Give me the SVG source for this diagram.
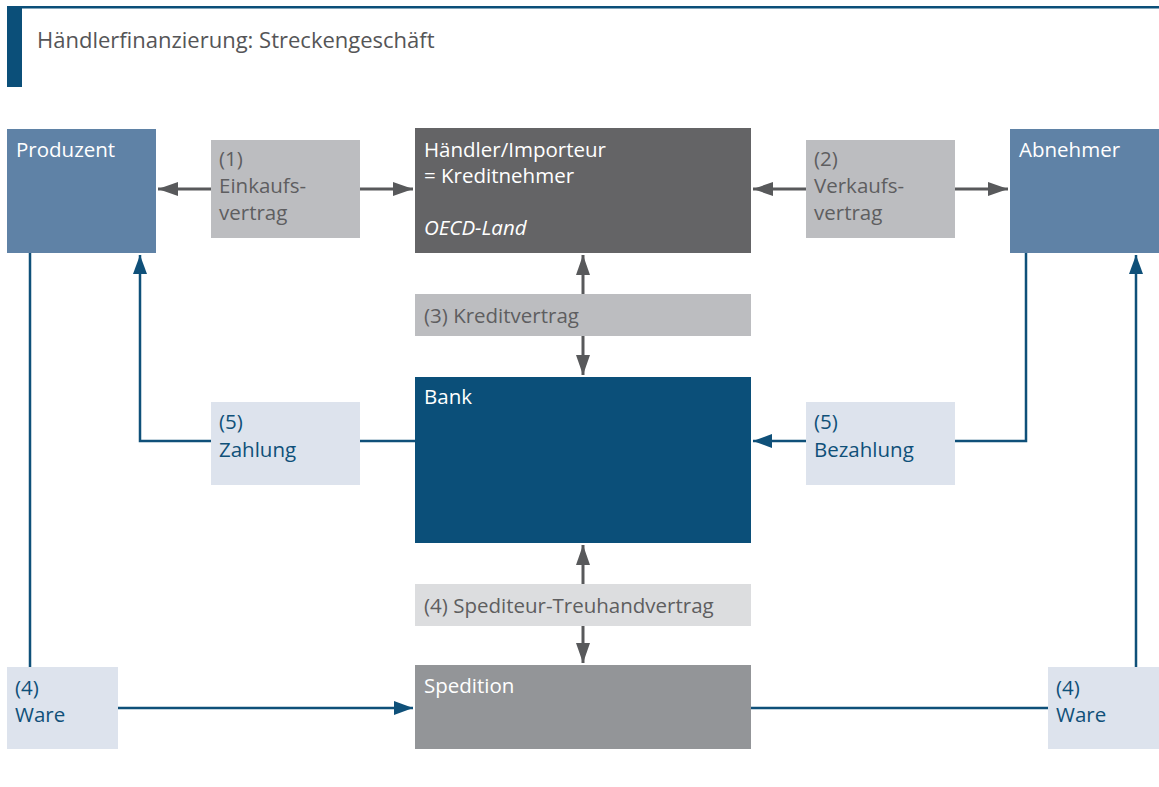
<svg xmlns="http://www.w3.org/2000/svg" width="1159" height="787" viewBox="0 0 1159 787">
<style>
text{font-family:"Open Sans","Noto Sans","Liberation Sans",sans-serif;font-size:20.5px}
.w{fill:#ffffff}
.g{fill:#5e5e60}
.b{fill:#0f5079}
.gl{stroke:#58595b;stroke-width:3;fill:none}
.bl{stroke:#0f5079;stroke-width:2.5;fill:none}
</style>
<defs>
<marker id="ag" markerUnits="userSpaceOnUse" markerWidth="20" markerHeight="14" refX="20" refY="7" orient="auto-start-reverse"><path d="M0,0 L20,7 L0,14 Z" fill="#58595b"/></marker>
<marker id="ab" markerUnits="userSpaceOnUse" markerWidth="19" markerHeight="14" refX="19" refY="7" orient="auto-start-reverse"><path d="M0,0 L19,7 L0,14 Z" fill="#0f5079"/></marker>
</defs>
<rect width="1159" height="787" fill="#ffffff"/>
<g id="header">
<rect x="7" y="6" width="1152" height="2.5" fill="#0b4f79"/>
<rect x="7" y="6" width="15" height="81" fill="#0b4f79"/>
<text x="37" y="48" style="fill:#555557;font-size:22px">Händlerfinanzierung: Streckengeschäft</text>
</g>
<g id="connectors">
<line x1="211" y1="189" x2="158" y2="189" class="gl" marker-end="url(#ag)"/>
<line x1="360" y1="189" x2="413" y2="189" class="gl" marker-end="url(#ag)"/>
<line x1="806" y1="189" x2="753" y2="189" class="gl" marker-end="url(#ag)"/>
<line x1="955" y1="189" x2="1008" y2="189" class="gl" marker-end="url(#ag)"/>
<line x1="583" y1="294" x2="583" y2="255" class="gl" marker-end="url(#ag)"/>
<line x1="583" y1="336" x2="583" y2="375" class="gl" marker-end="url(#ag)"/>
<line x1="583" y1="584" x2="583" y2="545" class="gl" marker-end="url(#ag)"/>
<line x1="583" y1="626" x2="583" y2="663" class="gl" marker-end="url(#ag)"/>
<polyline points="211,441 140,441 140,255" class="bl" marker-end="url(#ab)"/>
<line x1="360" y1="441" x2="415" y2="441" class="bl"/>
<polyline points="955,441 1026,441 1026,253" class="bl"/>
<line x1="806" y1="441" x2="753" y2="441" class="bl" marker-end="url(#ab)"/>
<line x1="30" y1="253" x2="30" y2="667" class="bl"/>
<line x1="118" y1="708" x2="413" y2="708" class="bl" marker-end="url(#ab)"/>
<line x1="751" y1="708" x2="1048" y2="708" class="bl"/>
<line x1="1136" y1="667" x2="1136" y2="255" class="bl" marker-end="url(#ab)"/>
</g>
<g id="produzent">
<rect x="7" y="129" width="149" height="124" fill="#5f82a6"/>
<text x="16" y="157" class="w">Produzent</text>
</g>
<g id="einkaufsvertrag">
<rect x="211" y="140" width="149" height="98" fill="#bcbdc0"/>
<text x="219" y="166" class="g">(1)</text>
<text x="219" y="193" class="g">Einkaufs-</text>
<text x="219" y="220" class="g">vertrag</text>
</g>
<g id="haendler">
<rect x="415" y="128" width="336" height="125" fill="#646466"/>
<text x="424" y="157" class="w">Händler/Importeur</text>
<text x="424" y="183" class="w">= Kreditnehmer</text>
<text x="424" y="235" class="w" font-style="italic">OECD-Land</text>
</g>
<g id="verkaufsvertrag">
<rect x="806" y="140" width="149" height="98" fill="#bcbdc0"/>
<text x="814" y="166" class="g">(2)</text>
<text x="814" y="193" class="g">Verkaufs-</text>
<text x="814" y="220" class="g">vertrag</text>
</g>
<g id="abnehmer">
<rect x="1010" y="129" width="149" height="124" fill="#5f82a6"/>
<text x="1019" y="157" class="w">Abnehmer</text>
</g>
<g id="kreditvertrag">
<rect x="415" y="294" width="336" height="42" fill="#bcbdc0"/>
<text x="424" y="323" class="g">(3) Kreditvertrag</text>
</g>
<g id="bank">
<rect x="415" y="377" width="336" height="166" fill="#0b4f79"/>
<text x="424" y="404" class="w">Bank</text>
</g>
<g id="zahlung">
<rect x="211" y="402" width="149" height="83" fill="#dde3ed"/>
<text x="219" y="429" class="b">(5)</text>
<text x="219" y="457" class="b">Zahlung</text>
</g>
<g id="bezahlung">
<rect x="806" y="402" width="149" height="83" fill="#dde3ed"/>
<text x="814" y="429" class="b">(5)</text>
<text x="814" y="457" class="b">Bezahlung</text>
</g>
<g id="treuhand">
<rect x="415" y="584" width="336" height="42" fill="#dcdddf"/>
<text x="424" y="613" class="g">(4) Spediteur-Treuhandvertrag</text>
</g>
<g id="spedition">
<rect x="415" y="665" width="336" height="84" fill="#939598"/>
<text x="424" y="693" class="w">Spedition</text>
</g>
<g id="ware-links">
<rect x="7" y="667" width="111" height="82" fill="#dde3ed"/>
<text x="15" y="695" class="b">(4)</text>
<text x="15" y="722" class="b">Ware</text>
</g>
<g id="ware-rechts">
<rect x="1048" y="667" width="111" height="82" fill="#dde3ed"/>
<text x="1056" y="695" class="b">(4)</text>
<text x="1056" y="722" class="b">Ware</text>
</g>
</svg>
